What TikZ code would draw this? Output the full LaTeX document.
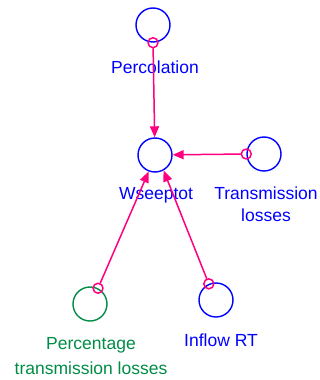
\documentclass[tikz,border=0pt]{standalone}
\usepackage{fontspec}
\setmainfont{Liberation Sans}
\usetikzlibrary{arrows.meta}
\definecolor{linkpink}{RGB}{255,0,128}
\definecolor{auxblue}{RGB}{0,0,255}
\definecolor{constgreen}{RGB}{0,140,70}
\tikzset{
  aux/.style={circle,draw=auxblue,line width=1.4pt,minimum size=34pt,inner sep=0pt},
  const/.style={circle,draw=constgreen,line width=1.4pt,minimum size=34pt,inner sep=0pt},
  tag/.style={circle,draw=linkpink,line width=1.5pt,minimum size=10pt,inner sep=0pt},
  lbl/.style={font=\fontsize{17.5}{22}\selectfont,align=center,inner sep=0pt},
  link/.style={draw=linkpink,line width=1.5pt,->}
}

\begin{document}
\begin{tikzpicture}[line cap=round,line join=round,>={Triangle[length=11pt,width=9pt]},x=1pt,y=-1pt]
  \useasboundingbox (0,0) rectangle (320,380);
  % stocks and variables
  \node[aux] (perc) at (153,25) {};
  \node[aux] (wsee) at (155,155) {};
  \node[aux] (trans) at (264,154) {};
  \node[const] (pct) at (90,304) {};
  \node[aux] (inflow) at (216,300) {};
  % labels
  \node[lbl,text=auxblue] (percl) at (155,67) {Percolation};
  \node[lbl,text=auxblue] (weel) at (156,195) {Wseeptot};
  \node[lbl,text=auxblue] (transl) at (266,204) {Transmission\\losses};
  \node[lbl,text=constgreen,font=\fontsize{17.5}{24.5}\selectfont] (pctl) at (91,356) {Percentage\\transmission losses};
  \node[lbl,text=auxblue] (inflowl) at (221,340) {Inflow RT};
  % link tags
  \node[tag] (ptag) at (perc.south) {};
  \node[tag] (ttag) at (trans.west) {};
  \node[tag] (ctag) at (pct.63) {};
  \node[tag] (itag) at (inflow.114) {};
  % links
  \draw[link] (ptag) -- (wsee);
  \draw[link] (ttag) -- (wsee);
  \draw[link] (ctag) -- (wsee.249);
  \draw[link] (itag) -- (wsee.299);
\end{tikzpicture}
\end{document}
